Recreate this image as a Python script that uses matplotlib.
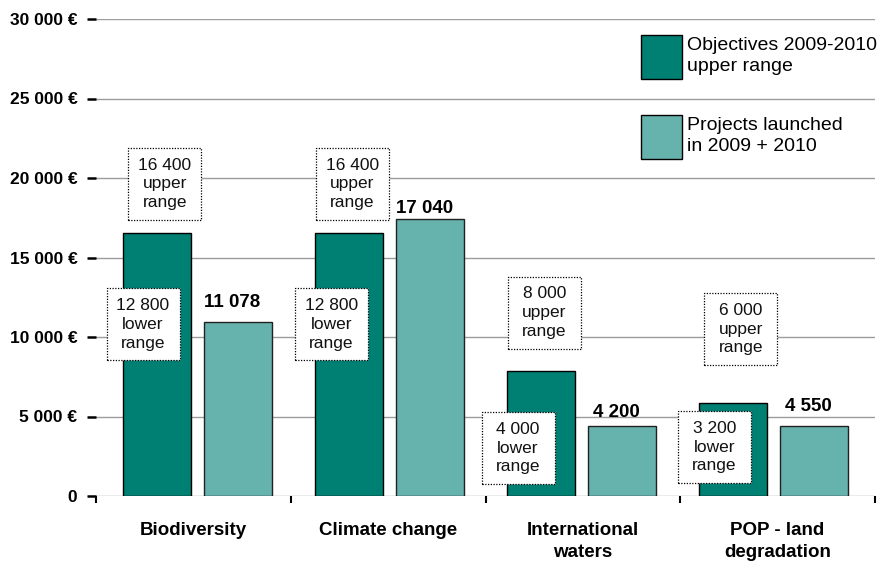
import numpy as np
import matplotlib
matplotlib.use('Agg')
import matplotlib.pyplot as plt
from matplotlib.patches import Rectangle, Patch

# data
categories = ['Biodiversity', 'Climate change', 'International\nwaters', 'POP - land\ndegradation']
objectives = [16550, 16520, 7870, 5850]      # dark bars (as drawn)
launched = [10960, 17400, 4430, 4430]        # light bars (as drawn)
launched_labels = [11078, 17040, 4200, 4550]
upper_range = [16400, 16400, 8000, 6000]
lower_range = [12800, 12800, 4000, 3200]
yticks = [0, 5000, 10000, 15000, 20000, 25000, 30000]
legend_labels = ['Objectives 2009-2010\nupper range', 'Projects launched\nin 2009 + 2010']

# where the dotted boxes sit (x offset from dark bar, y centre)
upper_box = [(0.04, 19640), (0.018, 19640), (0.018, 11540), (0.041, 10480)]
lower_box = [(-0.073, 10790), (-0.091, 10790), (-0.12, 3010), (-0.097, 3070)]

dark = '#007F73'
light = '#66B2AC'

plt.rcParams['font.family'] = 'Liberation Sans'


def fmt(v):
    return f'{v:,}'.replace(',', ' ')


W, H = 883, 561
fig = plt.figure(figsize=(W / 100, H / 100), dpi=100)
ax = fig.add_axes([96 / W, 1 - 496 / H, (875 - 96) / W, (496 - 19) / H])

x = np.arange(len(categories))
xlim = (-0.528, 3.529)
ax.set_xlim(*xlim)
ax.set_ylim(0, 30000)

ax.bar(x - 0.21, objectives, 0.355, color=dark, edgecolor='black', lw=1.0, zorder=2)
ax.bar(x + 0.21, launched, 0.355, color=light, edgecolor='#222222', lw=1.0, zorder=2)

for i, v in enumerate(launched_labels):
    ax.annotate(fmt(v), (x[i] + 0.21, v), xytext=(-4, 9), textcoords='offset points',
                ha='center', va='baseline', fontsize=13.5, fontweight='bold', zorder=5)

# fixed size dotted boxes
bw = 73 / 192
bh = 72 / (477 / 30000)
for i in range(len(categories)):
    for (dx, cy), val, word in [(upper_box[i], upper_range[i], 'upper'),
                                (lower_box[i], lower_range[i], 'lower')]:
        cx = x[i] - 0.21 + dx
        ax.add_patch(Rectangle((cx - bw / 2, cy - bh / 2), bw, bh, facecolor='white',
                               edgecolor='black', lw=0.9, linestyle=(0, (1, 1.2)), zorder=3))
        ax.text(cx, cy, f'{fmt(val)}\n{word}\nrange', ha='center', va='center',
                fontsize=12.5, linespacing=1.3, color='#111111', zorder=4)

# axes styling
for s in ax.spines.values():
    s.set_visible(False)
ax.set_axisbelow(True)
ax.yaxis.grid(True, color='#9c9c9c', lw=1.0)
ax.set_yticks(yticks)
ax.set_yticklabels(['0' if t == 0 else fmt(t) + ' €' for t in yticks],
                   fontsize=12.5, fontweight='bold')
ax.tick_params(axis='y', length=6.5, width=1.8, pad=7, color='black')

bounds = np.linspace(xlim[0], xlim[1], 5)
ax.set_xticks((bounds[:-1] + bounds[1:]) / 2)
ax.set_xticklabels(categories, fontsize=13.5, fontweight='bold', linespacing=1.35)
ax.set_xticks(bounds, minor=True)
ax.tick_params(axis='x', which='major', length=0, pad=19)
ax.tick_params(axis='x', which='minor', length=5, width=1.5, color='black')

handles = [Patch(facecolor=dark, edgecolor='black', lw=1.0),
           Patch(facecolor=light, edgecolor='black', lw=1.0)]
leg = ax.legend(handles, legend_labels, loc='upper left', bbox_to_anchor=(641 / W, 1 - 35 / H),
                bbox_transform=fig.transFigure, frameon=False, fontsize=14,
                handlelength=2.11, handleheight=3.11, handletextpad=0.25, labelspacing=1.85,
                borderpad=0, borderaxespad=0)
for t in leg.get_texts():
    t.set_linespacing(1.33)

fig.savefig('out.png', dpi=100)
